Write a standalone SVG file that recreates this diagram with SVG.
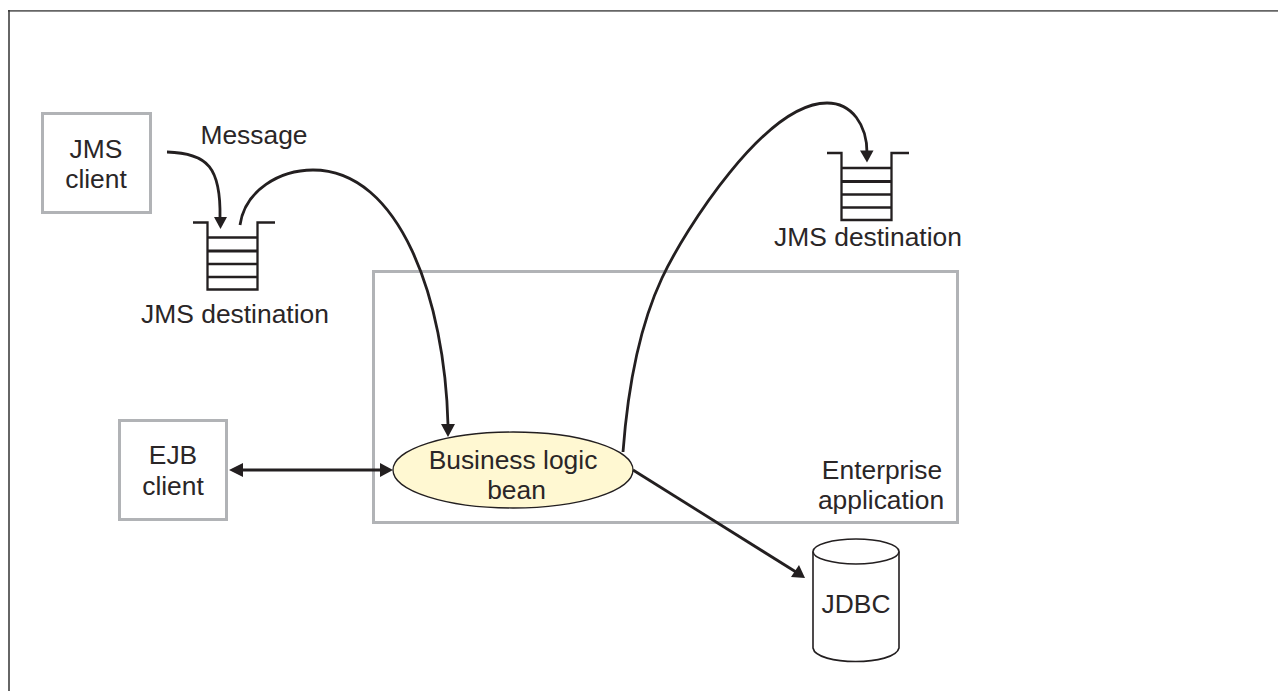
<svg xmlns="http://www.w3.org/2000/svg" width="1278" height="691" viewBox="0 0 1278 691">
<style>
text{font-family:"Liberation Sans",Arial,sans-serif;font-size:26.4px;fill:#2a2627;text-anchor:middle}
.box{fill:#fff;stroke:#b1b3b6;stroke-width:3}
.q{fill:none;stroke:#231f20;stroke-width:2.3}
.qt{fill:none;stroke:#231f20;stroke-width:3}
.c{fill:none;stroke:#231f20;stroke-width:2.800}
.h{fill:#231f20;stroke:none}
</style>
<defs>
<g id="queue">
<path class="q" d="M0 0H14.500V67H64.500V0H82M14.500 15H64.500M14.500 41.500H64.500M14.500 54.500H64.500"/>
<path class="qt" d="M14.500 28.500H64.500"/>
</g>
</defs>
<g id="frame" fill="none">
<path d="M8 10.900H1278" stroke="#666" stroke-width="1.900"/>
<path d="M9 10V691" stroke="#333" stroke-width="1.500"/>
</g>
<g id="enterprise-application">
<rect class="box" x="373.500" y="271.500" width="584" height="251"/>
<text x="882" y="478.500">Enterprise</text>
<text x="881" y="509">application</text>
</g>
<g id="jms-client">
<rect class="box" x="42.500" y="113.500" width="108" height="99"/>
<text x="96" y="158">JMS</text>
<text x="96" y="188">client</text>
</g>
<g id="ejb-client">
<rect class="box" x="119.500" y="420.500" width="107" height="99"/>
<text x="173" y="464">EJB</text>
<text x="173" y="495">client</text>
</g>
<g id="jms-destination-left">
<use href="#queue" x="193" y="222.500"/>
<text x="235" y="323">JMS destination</text>
</g>
<g id="jms-destination-right">
<use href="#queue" x="827" y="153"/>
<text x="868" y="246">JMS destination</text>
</g>
<g id="business-logic-bean">
<ellipse cx="513" cy="470" rx="120" ry="38" fill="#fff8d2" stroke="#231f20" stroke-width="1.300"/>
<text x="513" y="469">Business logic</text>
<text x="516.500" y="499">bean</text>
</g>
<g id="jdbc">
<path d="M813 551.500V648C816 666 895 666 899 648V551.500" fill="#fff" stroke="#231f20" stroke-width="1.600"/>
<ellipse cx="856" cy="551.500" rx="43" ry="12.500" fill="#fff" stroke="#231f20" stroke-width="1.600"/>
<text x="856" y="612.500">JDBC</text>
</g>
<text id="message-label" x="254" y="144">Message</text>
<g id="connectors">
<path class="c" d="M167 152C208 153 221 168 220 218"/>
<path class="h" d="M214 217H227L220.500 229Z"/>
<path class="c" d="M240 225C245 190 280 170 313 170C400 170 445 300 448 425"/>
<path class="h" d="M441 424H455L448 437Z"/>
<path class="c" d="M623 452C628 385 640 325 662 278C684 231 765 103 827 103C852 103 867 125 867 153"/>
<path class="h" d="M860 150.500H873.500L867 162.500Z"/>
<path class="c" d="M240 470H382"/>
<path class="h" d="M229 470L243 463V477Z"/>
<path class="h" d="M393 470L380 463V477Z"/>
<path class="c" d="M633 470L796 572"/>
<path class="h" d="M805 578L791 577L799 565Z"/>
</g>
</svg>
